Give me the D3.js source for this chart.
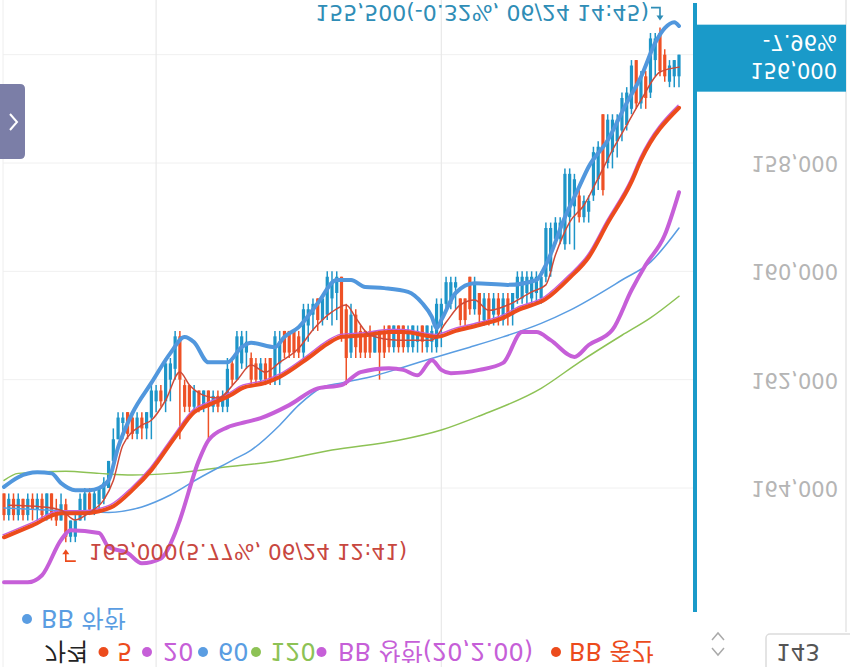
<!DOCTYPE html>
<html><head><meta charset="utf-8">
<script src="https://cdn.jsdelivr.net/npm/d3@7"></script>
<style>body{margin:0;background:#fff;overflow:hidden}svg{display:block;font-family:"DejaVu Sans","Noto Sans CJK KR",sans-serif}</style>
</head><body><svg id="c" width="850" height="667"></svg>
<script>
// ---------- DATA (1-minute candles, open/high/low/close) ----------
const candles = [
[164100,164600,164100,164500],[164500,164600,164100,164200],[164200,164600,164100,164500],[164500,164600,164100,164200],
[164200,164600,164200,164500],[164500,164600,164100,164200],[164200,164600,164100,164400],[164400,164600,164100,164200],
[164200,164600,164100,164500],[164500,164600,164100,164100],[164100,164600,164100,164500],[164400,164700,164200,164600],
[164600,164600,164100,164300],[164300,165000,164200,164900],[164900,165000,164600,164600],[164900,165000,164500,164600],
[164600,164600,164100,164200],[164500,164600,164000,164100],[164100,164500,164000,164400],[164400,164500,164000,164100],
[164300,164400,164000,164000],[164200,164300,163800,163900],[164000,164000,163500,163500],[163500,163600,162900,163100],
[163100,163100,162600,162700],[162800,163100,162600,162700],[162600,163100,162600,163000],[162700,163100,162600,163000],
[163000,163100,162600,162700],[162700,163100,162600,162900],[162900,163100,162600,162600],[162700,163100,162100,162200],
[162400,162600,162100,162200],[162200,162500,162100,162400],[162400,162600,161600,161700],[162000,162400,161600,161700],
[161800,162000,161100,161200],[161200,163100,161100,162000],[162100,162600,162000,162500],[162100,162600,162100,162500],
[162500,162600,162100,162200],[162200,162600,162200,162500],[162500,162600,162200,162200],[162200,163100,162200,162500],
[162500,162600,162200,162300],[162300,162600,162200,162500],[162500,162600,162200,162300],[162500,162600,161600,161800],
[161700,162100,161600,162000],[162000,162000,161100,161200],[161700,161800,161100,161200],[161500,161800,161100,161300],
[161600,162100,161500,162000],[161700,162100,161600,162000],[162000,162100,161600,161700],[161700,162100,161600,162000],
[161600,162100,161600,162000],[162000,162100,161100,161200],[161700,162100,161100,161300],[161100,161600,161100,161500],
[161100,161600,161100,161500],[161100,161600,161100,161500],[161200,161600,161100,161500],[161500,161600,160600,160700],
[161000,161300,160600,160700],[160800,161100,160500,160600],[160500,161100,160500,160900],[160900,161000,160500,160500],
[160800,160900,160000,160100],[160500,161000,160000,160200],[160400,160900,160000,160100],[160100,161300,160100,161200],
[160700,162100,160600,161600],[161500,161600,160600,160800],[160800,161600,160700,161400],[161100,161600,161000,161500],
[161100,161600,161100,161500],[161100,161600,161000,161500],[161500,161500,161100,161100],[161100,162000,161100,161500],
[161100,161600,161000,161500],[161000,161500,161000,161400],[161400,161500,161000,161000],[161000,161500,161000,161400],
[161000,161500,161000,161400],[161400,161500,161000,161100],[161400,161500,161000,161000],[161300,161500,161000,161100],
[161000,161500,161000,161300],[161400,161500,161000,161000],[161300,161500,161000,161100],[161400,161500,160500,160600],
[161000,161400,160500,160600],[160600,160700,160100,160200],[160600,160700,160100,160200],[160300,160700,160100,160200],
[160500,161000,160500,160900],[160500,161000,160500,160900],[160100,160800,160100,160700],[160700,160800,160100,160200],
[160400,161000,160400,160800],[160900,161000,160400,160500],[160500,161000,160400,160900],[160800,161000,160400,160500],
[160500,161000,160400,160800],[160900,161000,160400,160500],[160500,161000,160400,160800],[160800,161000,160400,160400],
[160500,160600,160000,160100],[160500,160600,160000,160100],[160400,160600,160000,160100],[160500,160600,160000,160100],
[160400,160600,160000,160100],[160500,160600,160000,160100],[160100,160200,159100,159200],[160000,160100,159100,159200],
[159400,159500,159000,159100],[159400,159500,159000,159100],[159500,159600,158100,158200],[159000,159500,158100,158200],
[158800,159600,158200,158300],[158600,159100,158500,159000],[159000,159100,158600,158700],[158900,159100,158600,158700],
[158600,158700,157700,157800],[158300,158500,157600,157700],[157100,158600,157100,158500],[158000,158100,157100,157200],
[157800,158100,157100,157200],[157600,157900,157100,157200],[157400,157600,156700,156800],[157300,157400,156600,156700],
[157000,157100,156100,156200],[156100,157000,156100,156900],[156900,157000,156300,156400],[156400,157000,156300,156800],
[156700,156800,155600,155700],[156100,156400,155600,155700],[155600,156400,155500,156300],[156000,156500,155900,156400],
[156500,156600,156100,156200],[156400,156600,156100,156100],[156400,156600,156000,156000]
];
// indicator lines: [candle index, price]
const ma5 = [[1,164320],[8,164350],[12,164410],[15,164590],[18,164450],[21,164220],[23,163860],[25,163210],[29,162840],[31,162750],[34,162380],[37,161860],[39,162100],[42,162290],[45,162340],[49,162010],[52,161730],[55,161860],[58,161680],[62,161420],[65,161080],[69,160750],[72,160620],[74,160860],[77,161180],[83,161270],[90,161270],[93,160940],[96,160620],[99,160530],[102,160720],[106,160620],[111,160380],[114,160250],[116,159700],[119,159090],[122,158780],[125,158280],[128,157760],[131,157300],[134,156840],[138,156320],[142,156230]];
const bbMid = [[0,164910],[6,164690],[12,164465],[17,164465],[20,164430],[23,164335],[27,164040],[31,163670],[36,163060],[40,162600],[43,162470],[48,162270],[50,162160],[55,162060],[58,161950],[64,161600],[68,161340],[71,161210],[76,161180],[81,161120],[84,161120],[91,161210],[95,161100],[100,160990],[105,160860],[108,160720],[114,160510],[119,160120],[123,159740],[127,159110],[132,158350],[134,157945],[142,156980]];
const ma20 = bbMid; // 20-period average coincides with the Bollinger middle band
const bbUpper = [[0,165740],[5,165740],[8,165610],[12,164960],[14,164780],[20,164830],[22,165090],[26,165200],[29,165390],[33,165300],[36,164830],[37,164590],[41,163490],[43,163120],[47,162880],[51,162780],[54,162710],[60,162470],[66,162160],[71,162100],[75,161860],[81,161790],[84,161820],[87,161920],[90,161640],[92,161820],[94,161880],[100,161820],[105,161690],[109,161120],[112,161120],[115,161270],[120,161580],[123,161360],[128,161080],[132,160350],[135,159880],[139,159330],[142,158540]];
const bbLower = [[0,163980],[3,163800],[7,163710],[10,163730],[12,163910],[15,164040],[18,164040],[20,164000],[22,163860],[24,163250],[27,162620],[31,162060],[35,161510],[38,161210],[40,161310],[43,161680],[47,161680],[50,161400],[52,161320],[57,161400],[59,161210],[62,161030],[66,160590],[70,160160],[73,160160],[76,160290],[80,160310],[85,160380],[88,160590],[90,160840],[91,161050],[92,160900],[95,160400],[99,160220],[106,160250],[112,160160],[114,159880],[118,159000],[121,158440],[123,158070],[127,157580],[131,156890],[134,156410],[137,155780],[139,155510],[141,155400],[142,155470]];
const ma60 = [[0,164370],[10,164410],[22,164450],[29,164350],[35,164130],[41,163820],[48,163490],[52,163300],[58,162840],[62,162470],[67,162140],[71,162060],[77,161950],[84,161770],[91,161580],[98,161400],[105,161210],[113,160960],[119,160720],[130,160160],[136,159830],[142,159200]];
const ma120 = [[0,163860],[3,163730],[13,163690],[20,163730],[27,163760],[35,163730],[45,163630],[56,163520],[69,163300],[83,163120],[92,162930],[100,162670],[113,162160],[121,161680],[130,161180],[136,160860],[142,160460]];

const yTicks = [158000, 160000, 162000, 164000];
const gridPrices = [156000, 158000, 160000, 162000, 164000];
const hourMarks = [32, 92];
const current = {price: 156000, change: "-7.96%"};
const highMark = {idx: 13, price: 165000, pct: "5.77%", time: "06/24 12:41"};
const lowMark  = {idx: 138, price: 155500, pct: "-0.32%", time: "06/24 14:45"};
const legendLabels = ["가격", "5", "20", "60", "120", "BB 상한(20,2.00)", "BB 중간"];
const legendLabels2 = ["BB 하한"];
const zoomCount = "143";

// ---------- STYLE ----------
const C = {up:"#ee5126", down:"#1e95c8", mid:"#ec4b1c", upper:"#c65fd8", lower:"#5197dd",
  ma5:"#cf4a38", ma20:"#c65fd8", ma60:"#5a9de2", ma120:"#8dc255", axis:"#1a9ac9"};
const legendColors = ["#222", C.mid, C.upper, C.ma60, C.ma120, C.upper, C.mid];

const svg = d3.select("#c");
const W = 850, H = 667;
// whole picture is shown mirrored top-to-bottom: higher prices lower on screen
const x = d3.scaleLinear().domain([0, 142]).range([4, 679]);
const y = d3.scaleLinear().domain([158000, 164000]).range([163, 488]);
const fmt = d3.format(",");

function ftext(parent, px, py, str, fill, size, anchor) {
  return parent.append("text")
    .attr("transform", `translate(${px},${py}) scale(1,-1)`)
    .attr("text-anchor", anchor || "start")
    .attr("dominant-baseline", "central")
    .attr("font-size", size).attr("fill", fill).text(str);
}

svg.append("rect").attr("width", W).attr("height", H).attr("fill", "#fff");

// grid
const grid = svg.append("g");
grid.selectAll("line.h").data(gridPrices).join("line").attr("class","h")
  .attr("x1", 3).attr("x2", 693).attr("y1", d => y(d)).attr("y2", d => y(d))
  .attr("stroke", "#f0f0f0").attr("stroke-width", 1);
grid.selectAll("line.v").data(hourMarks).join("line").attr("class","v")
  .attr("x1", d => x(d)).attr("x2", d => x(d)).attr("y1", 0).attr("y2", H)
  .attr("stroke", "#e9e9e9").attr("stroke-width", 1.2);
grid.append("line").attr("x1", 3).attr("x2", 3).attr("y1", 0).attr("y2", H).attr("stroke", "#eeeeee");

// candles
const cg = svg.append("g");
cg.selectAll("line").data(candles).join("line")
  .attr("x1", (d, i) => x(i)).attr("x2", (d, i) => x(i))
  .attr("y1", d => y(d[1])).attr("y2", d => y(d[2]))
  .attr("stroke", d => d[3] >= d[0] ? C.up : C.down).attr("stroke-width", 1.5);
cg.selectAll("rect").data(candles).join("rect")
  .attr("x", (d, i) => x(i) - 1.6).attr("width", 3.2)
  .attr("y", d => Math.min(y(d[0]), y(d[3])))
  .attr("height", d => Math.max(1, Math.abs(y(d[0]) - y(d[3]))))
  .attr("fill", d => d[3] >= d[0] ? C.up : C.down);

// indicator lines
const line = d3.line().x(d => x(d[0])).y(d => y(d[1])).curve(d3.curveMonotoneX);
const lg = svg.append("g").attr("fill", "none").attr("stroke-linejoin", "round").attr("stroke-linecap", "round");
lg.append("path").datum(ma120).attr("d", line).attr("stroke", C.ma120).attr("stroke-width", 1.5);
lg.append("path").datum(ma60).attr("d", line).attr("stroke", C.ma60).attr("stroke-width", 1.5);
lg.append("path").datum(bbUpper).attr("d", line).attr("stroke", C.upper).attr("stroke-width", 4);
lg.append("path").datum(bbLower).attr("d", line).attr("stroke", C.lower).attr("stroke-width", 4);
lg.append("path").datum(ma20).attr("d", line).attr("stroke", C.ma20).attr("stroke-width", 1.4).attr("transform", "translate(-1,-2.5)");
lg.append("path").datum(bbMid).attr("d", line).attr("stroke", C.mid).attr("stroke-width", 4);
lg.append("path").datum(ma5).attr("d", line).attr("stroke", C.ma5).attr("stroke-width", 1.5);

// high / low markers
const hx = x(highMark.idx), hy = y(highMark.price);
svg.append("path").attr("d", `M${hx},${hy + 9} V${hy + 19} H${hx + 10}`).attr("fill", "none").attr("stroke", C.mid).attr("stroke-width", 1.6);
svg.append("path").attr("d", `M${hx - 3.5},${hy + 12} L${hx},${hy + 7} L${hx + 3.5},${hy + 12}Z`).attr("fill", C.mid);
ftext(svg, hx + 23, hy + 9, `${fmt(highMark.price)}(${highMark.pct}, ${highMark.time})`, "#c8473f", 21.5);
const lx = x(lowMark.idx), ly = y(lowMark.price);
svg.append("path").attr("d", `M${lx},${ly - 9} V${ly - 20} H${lx - 9}`).attr("fill", "none").attr("stroke", "#2f8db6").attr("stroke-width", 1.6);
svg.append("path").attr("d", `M${lx - 3.5},${ly - 12} L${lx},${ly - 7} L${lx + 3.5},${ly - 12}Z`).attr("fill", "#2f8db6");
ftext(svg, lx - 11, ly - 15, `${fmt(lowMark.price)}(${lowMark.pct}, ${lowMark.time})`, "#2f8db6", 22, "end");

// right price panel
svg.append("rect").attr("x", 697).attr("y", 0).attr("width", W - 697).attr("height", H).attr("fill", "#fff");
svg.append("line").attr("x1", 846).attr("x2", 846).attr("y1", 0).attr("y2", 632).attr("stroke", "#e6e6e6").attr("stroke-width", 1.5);
svg.append("rect").attr("x", 693).attr("y", 3).attr("width", 4).attr("height", 609).attr("fill", C.axis);
yTicks.forEach(t => ftext(svg, 838, y(t), fmt(t), "#b5b5b5", 21, "end"));
const cy = y(current.price);
svg.append("rect").attr("x", 697).attr("y", cy - 30).attr("width", 149).attr("height", 67).attr("fill", C.axis);
ftext(svg, 837, cy - 13, current.change, "#fff", 21, "end");
ftext(svg, 837, cy + 15, fmt(current.price), "#fff", 21, "end");

// left handle
svg.append("path").attr("d", "M-6,84 H20 Q25,84 25,89 V154 Q25,159 20,159 H-6 Z").attr("fill", "#7b7ea7");
svg.append("path").attr("d", "M10,114 L17,122 L10,130").attr("fill", "none").attr("stroke", "#fff").attr("stroke-width", 2);

// legend
const legX = [44, 117, 163, 218, 270, 338, 569];
const dotX = [null, 103.5, 147, 203, 256, 321.5, 556];
const leg = svg.append("g");
legendLabels.forEach((lab, i) => {
  if (dotX[i] !== null) leg.append("circle").attr("cx", dotX[i]).attr("cy", 652).attr("r", 5).attr("fill", legendColors[i]);
  ftext(leg, legX[i], 651, lab, legendColors[i], 24);
});
leg.append("circle").attr("cx", 27).attr("cy", 619).attr("r", 5).attr("fill", C.ma60);
ftext(leg, 41, 618, legendLabels2[0], C.ma60, 24);

// bottom-right controls
svg.append("path").attr("d", "M712,640 L718,633 L724,640").attr("fill", "none").attr("stroke", "#aaa").attr("stroke-width", 1.5);
svg.append("path").attr("d", "M712,648 L718,655 L724,648").attr("fill", "none").attr("stroke", "#aaa").attr("stroke-width", 1.5);
svg.append("rect").attr("x", 766).attr("y", 634).attr("width", 100).attr("height", 50).attr("rx", 4)
  .attr("fill", "#fff").attr("stroke", "#dcdcdc").attr("stroke-width", 1.5);
ftext(svg, 798, 652, zoomCount, "#555", 23, "middle");
</script></body></html>
